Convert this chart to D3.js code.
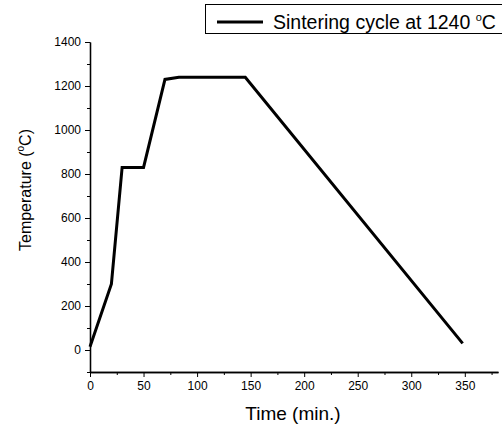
<!DOCTYPE html>
<html>
<head>
<meta charset="utf-8">
<script src="https://cdn.jsdelivr.net/npm/d3@7"></script>
<style>
  body { margin: 0; background: #fff; }
  svg { font-family: "Liberation Sans", Arial, sans-serif; }
</style>
</head>
<body>
<svg id="chart" width="502" height="429"></svg>
<script>
// sintering profile
var times = [0, 20, 30, 50, 70, 83, 145, 348];
var temps = [15, 300, 830, 830, 1230, 1240, 1240, 30];
var xTicks = [0, 50, 100, 150, 200, 250, 300, 350];
var yTicks = [0, 200, 400, 600, 800, 1000, 1200, 1400];
var seriesName = "Sintering cycle at 1240 ";

var svg = d3.select("#chart");

var x = d3.scaleLinear().domain([0, 381]).range([90, 498]);
var y = d3.scaleLinear().domain([-100, 1400]).range([372, 42]);

// minor ticks
var xMinor = d3.range(25, 381, 50);
var yMinor = d3.range(-100, 1400, 200);

svg.append("g")
    .attr("transform", "translate(0,372)")
    .call(d3.axisBottom(x).tickValues(xTicks).tickFormat(d3.format("d"))
        .tickSize(5).tickSizeOuter(0).tickPadding(4));
svg.append("g")
    .attr("transform", "translate(0,372)")
    .call(d3.axisBottom(x).tickValues(xMinor).tickSize(3).tickSizeOuter(0).tickFormat(""));

svg.append("g")
    .attr("transform", "translate(90,0)")
    .call(d3.axisLeft(y).tickValues(yTicks).tickFormat(d3.format("d"))
        .tickSize(5).tickSizeOuter(0).tickPadding(4));
svg.append("g")
    .attr("transform", "translate(90,0)")
    .call(d3.axisLeft(y).tickValues(yMinor).tickSize(3).tickSizeOuter(0).tickFormat(""));

svg.selectAll(".domain").attr("stroke", "#000").attr("stroke-width", 1.3);
svg.selectAll(".tick line").attr("stroke", "#000").attr("stroke-width", 1);
svg.selectAll(".tick text").attr("font-size", 12).attr("fill", "#000")
    .attr("font-family", "Liberation Sans, Arial, sans-serif");

var pts = times.map(function (t, i) { return [t, temps[i]]; });

var line = d3.line()
    .x(function (d) { return x(d[0]); })
    .y(function (d) { return y(d[1]); });

svg.append("path")
    .datum(pts)
    .attr("d", line)
    .attr("fill", "none")
    .attr("stroke", "#000")
    .attr("stroke-width", 3)
    .attr("stroke-linejoin", "miter");

// axis titles
svg.append("text")
    .attr("x", 293).attr("y", 420)
    .attr("text-anchor", "middle")
    .attr("font-size", 19)
    .text("Time (min.)");

var yt = svg.append("text")
    .attr("transform", "translate(31,190) rotate(-90)")
    .attr("text-anchor", "middle")
    .attr("font-size", 16);
yt.append("tspan").text("Temperature (");
yt.append("tspan").attr("font-size", 10).attr("dy", -7).text("o");
yt.append("tspan").attr("dy", 7).text("C)");

// legend
svg.append("rect")
    .attr("x", 205.5).attr("y", 4.5)
    .attr("width", 300).attr("height", 29)
    .attr("fill", "#fff").attr("stroke", "#000").attr("stroke-width", 1);
svg.append("line")
    .attr("x1", 217).attr("x2", 263)
    .attr("y1", 22).attr("y2", 22)
    .attr("stroke", "#000").attr("stroke-width", 3);
var lt = svg.append("text")
    .attr("x", 273).attr("y", 29)
    .attr("font-size", 19.5);
lt.append("tspan").text(seriesName);
lt.append("tspan").attr("font-size", 11).attr("dy", -8).text("o");
lt.append("tspan").attr("dy", 8).text("C");
</script>
</body>
</html>
